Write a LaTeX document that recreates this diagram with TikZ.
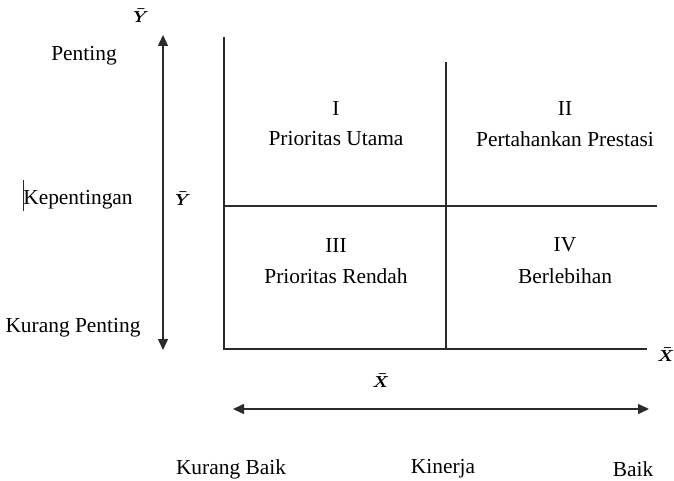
\documentclass[tikz,border=0pt]{standalone}
\usepackage{fontspec}
\setmainfont{Liberation Serif}
\usepackage{xcolor}
\usetikzlibrary{arrows.meta}
\definecolor{axisgray}{HTML}{2B2B2B}

\begin{document}
\begin{tikzpicture}[x=0.5pt, y=-0.5pt, line width=0.7pt,
    >={Triangle[length=5.5pt, width=5pt]},
    lbl/.style={inner sep=0pt, font=\fontsize{10.7}{13}\selectfont},
    barlbl/.style={inner sep=0pt, font=\fontsize{8.5}{10}\selectfont\boldmath}]
  \useasboundingbox (0,0) rectangle (674,481);

  % axes of the diagram
  \coordinate (o) at (224,349);
  \coordinate (ytop) at (224,37);
  \coordinate (xend) at (647,349);
  \coordinate (midtop) at (446,62);
  \coordinate (midbot) at (446,349);
  \coordinate (hleft) at (224,206);
  \coordinate (hright) at (657,206);
  \draw[axisgray] (ytop) -- (o) -- (xend);
  \draw[axisgray] (midtop) -- (midbot);
  \draw[axisgray] (hleft) -- (hright);

  % arrows
  \coordinate (yup) at (163,35);
  \coordinate (ydown) at (163,350);
  \draw[axisgray, <->] (yup) -- (ydown);
  \coordinate (xleft) at (233,409);
  \coordinate (xright) at (649,409);
  \draw[axisgray, <->] (xleft) -- (xright);

  % small mark before Kepentingan
  \coordinate (cur1) at (23,180);
  \coordinate (cur2) at (23,211);
  \draw[axisgray, line width=0.4pt] (cur1) -- (cur2);

  % axis labels
  \node[barlbl] (ybarTop) at (141,16) {$\bar{Y}$};
  \node[barlbl] (ybarMid) at (183,199) {$\bar{Y}$};
  \node[barlbl] (xbarEnd) at (666,355) {$\bar{X}$};
  \node[barlbl] (xbarMid) at (381,381) {$\bar{X}$};
  \node[lbl] (penting) at (84,56) {Penting};
  \node[lbl] (kepentingan) at (78,200) {Kepentingan};
  \node[lbl] (kurangpenting) at (73,328) {Kurang Penting};
  \node[lbl] (kurangbaik) at (231,469) {Kurang Baik};
  \node[lbl] (kinerja) at (443,469) {Kinerja};
  \node[lbl] (baik) at (633,469) {Baik};

  % quadrants
  \node[lbl] (q1) at (336,108) {I};
  \node[lbl] (q1txt) at (336,139) {Prioritas Utama};
  \node[lbl] (q2) at (565,108) {II};
  \node[lbl] (q2txt) at (565,139) {Pertahankan Prestasi};
  \node[lbl] (q3) at (336,245) {III};
  \node[lbl] (q3txt) at (336,276) {Prioritas Rendah};
  \node[lbl] (q4) at (565,245) {IV};
  \node[lbl] (q4txt) at (565,276) {Berlebihan};
\end{tikzpicture}
\end{document}
